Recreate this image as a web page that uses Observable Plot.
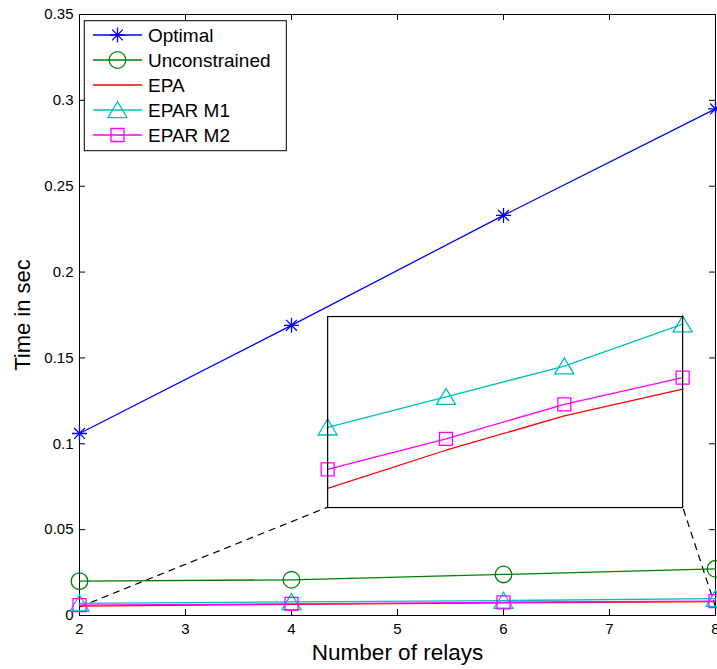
<!DOCTYPE html>
<html>
<head>
<meta charset="utf-8">
<script src="https://cdn.jsdelivr.net/npm/d3@7"></script>
<script src="https://cdn.jsdelivr.net/npm/@observablehq/plot@0.6"></script>
<style>
  html, body { margin: 0; padding: 0; overflow: hidden; background: white; }
</style>
</head>
<body>
<div id="chart"></div>
<script>
// ---------------- data ----------------
const relays = [2, 4, 6, 8];
const optimal = [0.106, 0.169, 0.233, 0.295];
const unconstrained = [0.0200, 0.0208, 0.0239, 0.0272];
const epa = [0.0055, 0.0065, 0.0074, 0.0081];
const eparM1 = [0.0071, 0.0079, 0.0087, 0.0098];
const eparM2 = [0.0060, 0.0068, 0.0077, 0.0084];
const seriesNames = ["Optimal", "Unconstrained", "EPA", "EPAR M1", "EPAR M2"];
const xTicks = [2, 3, 4, 5, 6, 7, 8];
const yTicks = [0, 0.05, 0.1, 0.15, 0.2, 0.25, 0.3, 0.35];
const xDomain = [2, 8];
const yDomain = [0, 0.35];
const insetYDomain = [0.005, 0.010];
// zoom source (main data coords) and inset placement (main data coords)
const zoomSourceY = 0.005;
const insetBox = {x1: 4.341, x2: 7.691, y1: 0.0631, y2: 0.1741};
const xLabel = "Number of relays";
const yLabel = "Time in sec";

// ---------------- styling ----------------
const font = "'Liberation Sans', Arial, Helvetica, sans-serif";
const W = 717, H = 669, mL = 79, mR = 2, mT = 14, mB = 54;
const innerW = W - mL - mR, innerH = H - mT - mB;
const tickLen = 6;
const lw = 1.3;

// MATLAB-like marker shapes
const symStar = {draw(ctx, size) {
  const r = Math.sqrt(size / Math.PI), d = r * 0.72;
  ctx.moveTo(0, -r); ctx.lineTo(0, r);
  ctx.moveTo(-r, 0); ctx.lineTo(r, 0);
  ctx.moveTo(-d, -d); ctx.lineTo(d, d);
  ctx.moveTo(-d, d); ctx.lineTo(d, -d);
}};
const symTri = {draw(ctx, size) {
  const r = Math.sqrt(size / Math.PI);
  ctx.moveTo(0, -r * 1.04); ctx.lineTo(r * 1.19, r * 0.96); ctx.lineTo(-r * 1.19, r * 0.96); ctx.closePath();
}};
const symSq = {draw(ctx, size) {
  const r = Math.sqrt(size / Math.PI);
  ctx.rect(-r, -r, 2 * r, 2 * r);
}};
const symCircle = {draw(ctx, size) {
  const r = Math.sqrt(size / Math.PI);
  ctx.moveTo(r, 0); ctx.arc(0, 0, r, 0, 2 * Math.PI);
}};

const series = [
  {name: seriesNames[0], values: optimal, color: "#0000ff", symbol: symStar, r: 7.5},
  {name: seriesNames[1], values: unconstrained, color: "#008000", symbol: symCircle, r: 8.3},
  {name: seriesNames[2], values: epa, color: "#ff0000", symbol: null, r: 0},
  {name: seriesNames[3], values: eparM1, color: "#00bfbf", symbol: symTri, r: 8},
  {name: seriesNames[4], values: eparM2, color: "#ff00ff", symbol: symSq, r: 6.5}
];
const rowsOf = s => relays.map((x, i) => ({x, y: s.values[i], name: s.name}));

function seriesMarks(list) {
  const marks = [];
  for (const s of list) {
    const rows = rowsOf(s);
    marks.push(Plot.line(rows, {x: "x", y: "y", stroke: s.color, strokeWidth: lw}));
    if (s.symbol) marks.push(Plot.dot(rows, {x: "x", y: "y", symbol: s.symbol, r: s.r, stroke: s.color, strokeWidth: lw, fill: "none"}));
  }
  return marks;
}

const links = [
  {x1: xDomain[0], y1: zoomSourceY, x2: insetBox.x1, y2: insetBox.y1},
  {x1: xDomain[1], y1: zoomSourceY, x2: insetBox.x2, y2: insetBox.y1}
];

const main = Plot.plot({
  width: W, height: H,
  marginLeft: mL, marginRight: mR, marginTop: mT, marginBottom: mB,
  style: {fontFamily: font, fontSize: "15px", color: "black", background: "white"},
  x: {domain: xDomain, label: null},
  y: {domain: yDomain, label: null},
  marks: [
    Plot.frame({stroke: "black", strokeWidth: 1}),
    Plot.tickX(xTicks, {x: d => d, insetTop: innerH - tickLen, stroke: "black"}),
    Plot.tickX(xTicks, {x: d => d, insetBottom: innerH - tickLen, stroke: "black"}),
    Plot.tickY(yTicks, {y: d => d, insetRight: innerW - tickLen, stroke: "black"}),
    Plot.tickY(yTicks, {y: d => d, insetLeft: innerW - tickLen, stroke: "black"}),
    Plot.axisX(xTicks, {tickSize: 0, tickPadding: 8, fontSize: 15, label: null}),
    Plot.axisY(yTicks, {tickSize: 0, tickPadding: 6, fontSize: 15, label: null, tickFormat: d => String(+d.toFixed(2))}),
    Plot.text([xLabel], {text: d => d, frameAnchor: "bottom", dy: 37, lineAnchor: "middle", fontSize: 22.5, fill: "black"}),
    Plot.text([yLabel], {text: d => d, frameAnchor: "left", dx: -57, rotate: -90, textAnchor: "middle", lineAnchor: "middle", fontSize: 22, fill: "black"}),
    Plot.link(links, {x1: "x1", y1: "y1", x2: "x2", y2: "y2", stroke: "black", strokeWidth: 1.2, strokeDasharray: "7,5"}),
    ...seriesMarks(series)
  ]
});

// ---------------- inset (zoom) ----------------
const sx = main.scale("x"), sy = main.scale("y");
const ix0 = sx.apply(insetBox.x1), ix1 = sx.apply(insetBox.x2);
const iy0 = sy.apply(insetBox.y2), iy1 = sy.apply(insetBox.y1);
const inset = Plot.plot({
  width: Math.round(ix1 - ix0), height: Math.round(iy1 - iy0),
  marginLeft: 0, marginRight: 0, marginTop: 0, marginBottom: 0,
  x: {domain: xDomain, axis: null},
  y: {domain: insetYDomain, axis: null},
  marks: [
    Plot.frame({fill: "white"}),
    ...seriesMarks(series.slice(2)),
    Plot.frame({stroke: "black", strokeWidth: 1.2})
  ]
});
const g = d3.select(main).append("g")
  .attr("transform", `translate(${ix0},${iy0})`)
  .attr("class", inset.getAttribute("class"));
while (inset.firstChild) g.node().appendChild(inset.firstChild);

// ---------------- legend ----------------
const leg = d3.select(main).append("g").attr("font-family", font).attr("font-size", 19)
  .attr("text-anchor", "start");
const lx = 84.3, ly = 20.7, lwid = 202, lh = 130;
leg.append("rect").attr("x", lx).attr("y", ly).attr("width", lwid).attr("height", lh)
  .attr("fill", "white").attr("stroke", "black").attr("stroke-width", 1);
series.forEach((s, i) => {
  const yy = 35 + i * 25;
  leg.append("line").attr("x1", 93).attr("x2", 142).attr("y1", yy).attr("y2", yy)
    .attr("stroke", s.color).attr("stroke-width", lw);
  if (s.symbol) {
    leg.append("path").attr("transform", `translate(117.5,${yy})`)
      .attr("d", d3.symbol().type(s.symbol).size(Math.PI * s.r * s.r)())
      .attr("fill", "none").attr("stroke", s.color).attr("stroke-width", lw);
  }
  leg.append("text").attr("x", 148).attr("y", yy).attr("dy", "0.35em")
    .attr("text-anchor", "start").attr("fill", "black").text(s.name);
});

document.getElementById("chart").appendChild(main);
</script>
</body>
</html>
